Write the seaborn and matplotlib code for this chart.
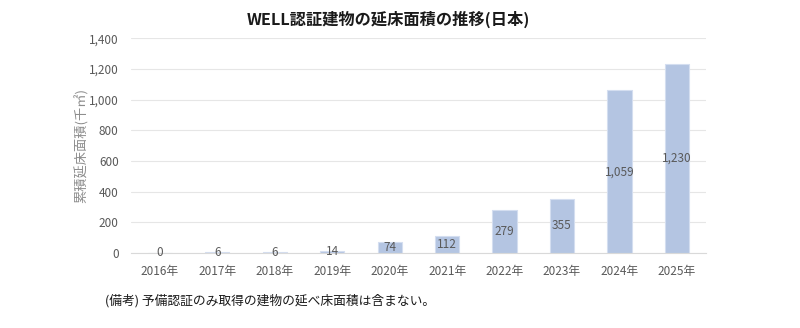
import matplotlib
matplotlib.use("Agg")
import matplotlib.pyplot as plt
import seaborn as sns
import numpy as np
import pandas as pd

years = ["2016年", "2017年", "2018年", "2019年", "2020年", "2021年", "2022年", "2023年", "2024年", "2025年"]
values = [0, 6, 6, 14, 74, 112, 279, 355, 1059, 1230]
labels = ["0", "6", "6", "14", "74", "112", "279", "355", "1,059", "1,230"]

sns.set_theme(style="white")
plt.rcParams['font.family'] = ['Noto Sans CJK JP', 'DejaVu Sans']

df = pd.DataFrame({"year": years, "value": values})

fig = plt.figure(figsize=(8, 3.28), dpi=100)
ax = fig.add_axes([0.164, 0.2287, 0.718, 0.655])

sns.barplot(data=df, x="year", y="value", color="#b4c5e2", width=0.42,
            edgecolor="#d4def0", linewidth=0.8, ax=ax, saturation=1, zorder=2)

for i, (v, lab) in enumerate(zip(values, labels)):
    ax.text(i, v / 2, lab, ha="center", va="center", fontsize=8.5, color="#595959", zorder=3)

ax.set_ylim(0, 1400)
ax.set_xlim(-0.5, len(years) - 0.5)
ax.set_yticks(np.arange(0, 1401, 200))
ax.set_yticklabels([f"{t:,}" for t in range(0, 1401, 200)], fontsize=8.5, color="#595959")
ax.tick_params(axis="x", labelsize=8.5, labelcolor="#595959", length=0, pad=9)
ax.tick_params(axis="y", length=0, pad=9)
ax.set_xticks(np.arange(-0.5, len(years), 1), minor=True)
ax.tick_params(axis="x", which="minor", length=4, color="#d9d9d9", width=0.8)
ax.yaxis.grid(True, color="#e6e6e6", linewidth=0.8, zorder=0)
ax.set_axisbelow(True)
for s in ["top", "right", "left"]:
    ax.spines[s].set_visible(False)
ax.spines["bottom"].set_color("#d9d9d9")
ax.spines["bottom"].set_linewidth(0.8)
ax.set_xlabel("")
ax.set_ylabel("累積延床面積(千㎡)", fontsize=9.5, color="#8c8c8c", labelpad=0)

fig.text(0.485, 0.942, "WELL認証建物の延床面積の推移(日本)", ha="center", va="center",
         fontsize=11.7, fontweight="bold", color="#1a1a1a")
fig.text(0.131, 0.082, "(備考) 予備認証のみ取得の建物の延べ床面積は含まない。", ha="left", va="center",
         fontsize=9.2, color="#1a1a1a")

fig.savefig("out.png", dpi=100)
